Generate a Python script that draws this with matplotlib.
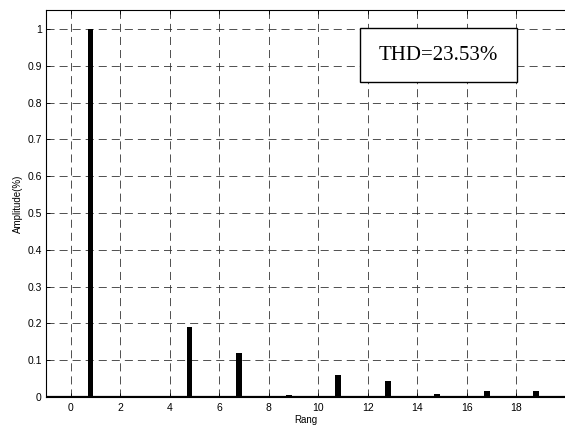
import numpy as np
import matplotlib.pyplot as plt
from matplotlib.patches import Rectangle

# harmonic order and amplitude (fundamental = 1)
orders = list(range(0, 20))
amplitudes = [0.002, 1.0, 0.002, 0.002, 0.002, 0.19, 0.002, 0.12, 0.002, 0.005,
              0.002, 0.059, 0.002, 0.044, 0.002, 0.007, 0.002, 0.015, 0.002, 0.015]
thd_text = 'THD=23.53%'
xticks = list(range(0, 20, 2))
yticks = [0, 0.1, 0.2, 0.3, 0.4, 0.5, 0.6, 0.7, 0.8, 0.9, 1]
ytick_labels = ['0', '0.1', '0.2', '0.3', '0.4', '0.5', '0.6', '0.7', '0.8', '0.9', '1']

plt.rcParams['font.family'] = ['Liberation Sans', 'DejaVu Sans']
plt.rcParams['lines.scale_dashes'] = False

fig = plt.figure(figsize=(5.65, 4.28), dpi=100)
ax = fig.add_axes([46 / 565, 31 / 428, 520 / 565, 387 / 428])

# bars sit a little left of the integer order, like the original
ax.bar(np.array(orders) - 0.2, amplitudes, width=0.23, color='black', zorder=3)
ax.axhline(0, color='black', linewidth=1.6, zorder=4)

ax.set_xlim(-1, 20)
ax.set_ylim(0, 1.052)
ax.set_xticks(xticks)
ax.set_yticks(yticks)
ax.set_yticklabels(ytick_labels)

ax.grid(True, color='0.2', linestyle=(0, (5.8, 3.6)), linewidth=0.6)
ax.set_axisbelow(True)
ax.tick_params(direction='in', length=3, width=0.6, labelsize=7.5, top=True, right=True,
               pad=3, colors='black')
ax.tick_params(axis='x', pad=4)
for s in ax.spines.values():
    s.set_linewidth(0.8)
ax.spines['right'].set_visible(False)

ax.set_xlabel('Rang', fontsize=7, labelpad=2)
ax.set_ylabel('Amplitude(%)', fontsize=7, labelpad=3)

# THD box
x0 = (360 - 46) / 520
y0 = (428 - 82 - 31) / 387
w = 157 / 520
h = 54 / 387
ax.add_patch(Rectangle((x0, y0), w, h, transform=ax.transAxes, facecolor='white',
                       edgecolor='black', linewidth=1.0, zorder=5))
ax.text(x0 + w / 2, y0 + h / 2, thd_text, transform=ax.transAxes, ha='center', va='center',
        fontsize=15, family=['Liberation Serif', 'DejaVu Serif'], zorder=6)

fig.savefig('out.png', dpi=100)
